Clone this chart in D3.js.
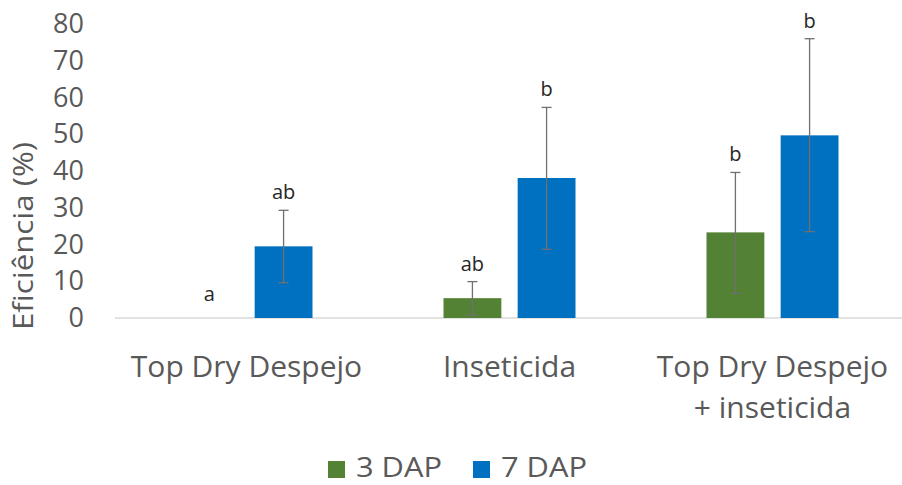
<!DOCTYPE html>
<html>
<head>
<meta charset="utf-8">
<script src="https://cdn.jsdelivr.net/npm/d3@7"></script>
<style>
  body { margin: 0; background: #fff; }
  text { font-family: "Open Sans", "Noto Sans", sans-serif; }
</style>
</head>
<body>
<div id="chart"></div>
<script>
// data
const categories = [["Top Dry Despejo"], ["Inseticida"], ["Top Dry Despejo", "+ inseticida"]];
const seriesNames = ["3 DAP", "7 DAP"];
const dap3 = [0, 5.4, 23.3];
const dap7 = [19.5, 38.1, 49.7];
const err3Low = [0, 0.8, 6.7];
const err3High = [0, 9.9, 39.6];
const err7Low = [9.6, 18.7, 23.5];
const err7High = [29.3, 57.3, 76];
const letters3 = ["a", "ab", "b"];
const letters7 = ["ab", "b", "b"];
const yTicks = [0, 10, 20, 30, 40, 50, 60, 70, 80];
const colors = ["#548235", "#0070C0"];

const width = 902, height = 485;
const margin = {top: 24, right: -2, bottom: 167, left: 115};

const svg = d3.select("#chart").append("svg")
  .attr("width", width)
  .attr("height", height);

const x0 = d3.scaleBand()
  .domain(d3.range(categories.length))
  .range([margin.left, width - margin.right]);

const x1 = d3.scaleBand()
  .domain(d3.range(seriesNames.length))
  .range([x0.bandwidth() / 2 - 66, x0.bandwidth() / 2 + 66])
  .paddingInner(0.22);

const y = d3.scaleLinear()
  .domain([0, 80])
  .range([height - margin.bottom, margin.top]);

// y axis tick labels
const yAxis = svg.append("g")
  .attr("transform", `translate(${margin.left - 31},0)`)
  .call(d3.axisLeft(y).tickValues(yTicks).tickSize(0).tickPadding(0));
yAxis.select(".domain").remove();
yAxis.selectAll("text")
  .attr("fill", "#595959")
  .style("font-size", "27px")
  .attr("text-anchor", "end");

// baseline
svg.append("line")
  .attr("x1", margin.left)
  .attr("x2", width)
  .attr("y1", y(0))
  .attr("y2", y(0))
  .attr("stroke", "#d9d9d9")
  .attr("stroke-width", 1.5);

// y title
svg.append("text")
  .attr("transform", "translate(33, 236) rotate(-90)")
  .attr("text-anchor", "middle")
  .attr("fill", "#595959")
  .style("font-size", "28px")
  .attr("textLength", 188)
  .attr("lengthAdjust", "spacingAndGlyphs")
  .text("Eficiência (%)");

const rows = categories.map((c, i) => ({
  i,
  vals: [
    {s: 0, v: dap3[i], lo: err3Low[i], hi: err3High[i], letter: letters3[i]},
    {s: 1, v: dap7[i], lo: err7Low[i], hi: err7High[i], letter: letters7[i]}
  ]
}));

const groups = svg.selectAll("g.grp")
  .data(rows)
  .enter().append("g")
  .attr("class", "grp")
  .attr("transform", d => `translate(${x0(d.i)},0)`);

const items = groups.selectAll("g.item")
  .data(d => d.vals)
  .enter().append("g")
  .attr("class", "item");

items.filter(d => d.v > 0).append("rect")
  .attr("x", d => x1(d.s))
  .attr("y", d => y(d.v))
  .attr("width", x1.bandwidth())
  .attr("height", d => y(0) - y(d.v))
  .attr("fill", d => colors[d.s]);

const cx = d => x1(d.s) + x1.bandwidth() / 2;

// error bars
const eb = items.filter(d => d.hi > d.lo);
eb.append("line")
  .attr("x1", cx).attr("x2", cx)
  .attr("y1", d => y(d.lo)).attr("y2", d => y(d.hi))
  .attr("stroke", "#707070").attr("stroke-width", 1.3);
eb.append("line")
  .attr("x1", d => cx(d) - 5).attr("x2", d => cx(d) + 5)
  .attr("y1", d => y(d.hi)).attr("y2", d => y(d.hi))
  .attr("stroke", "#707070").attr("stroke-width", 1.3);
eb.append("line")
  .attr("x1", d => cx(d) - 5).attr("x2", d => cx(d) + 5)
  .attr("y1", d => y(d.lo)).attr("y2", d => y(d.lo))
  .attr("stroke", "#707070").attr("stroke-width", 1.3);

// significance letters
items.append("text")
  .attr("x", cx)
  .attr("y", d => Math.min(y(Math.max(d.hi, d.v)) - 11, y(d.v) - 17))
  .attr("text-anchor", "middle")
  .attr("fill", "#262626")
  .style("font-size", "20px")
  .text(d => d.letter);

// category labels
groups.each(function(d) {
  const t = d3.select(this).append("text")
    .attr("text-anchor", "middle")
    .attr("fill", "#595959")
    .style("font-size", "30px");
  categories[d.i].forEach((line, k) => {
    t.append("tspan")
      .attr("x", x0.bandwidth() / 2)
      .attr("y", 377 + k * 41)
      .text(line);
  });
});

// legend
const legendX = [328, 473];
const legend = svg.selectAll("g.leg")
  .data(seriesNames)
  .enter().append("g")
  .attr("class", "leg")
  .attr("transform", (d, i) => `translate(${legendX[i]}, 461)`);
legend.append("rect")
  .attr("width", 17).attr("height", 17)
  .attr("fill", (d, i) => colors[i]);
legend.append("text")
  .attr("x", 28).attr("y", 16)
  .attr("fill", "#595959")
  .style("font-size", "28px")
  .attr("textLength", 86)
  .attr("lengthAdjust", "spacingAndGlyphs")
  .text(d => d);
</script>
</body>
</html>
